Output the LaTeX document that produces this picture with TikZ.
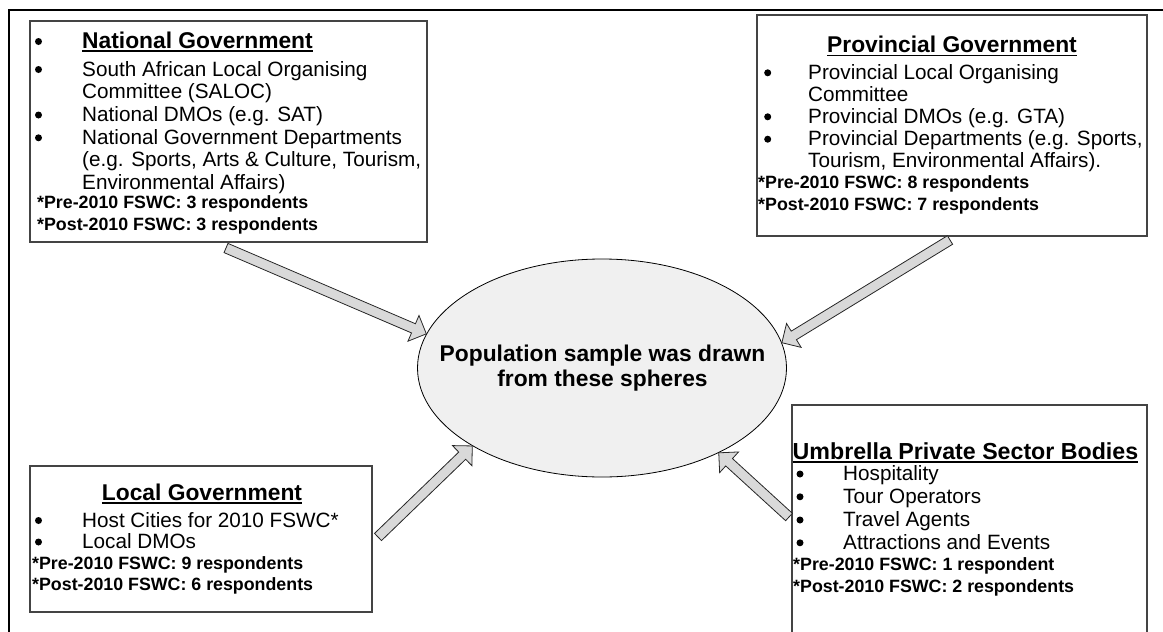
\documentclass[tikz,border=0pt]{standalone}
\usepackage{fontspec}
\setmainfont{Liberation Sans}
\usetikzlibrary{calc,shapes.geometric}

\definecolor{boxgray}{HTML}{444444}
\definecolor{arrowgray}{HTML}{D9D9D9}
\definecolor{ellfill}{HTML}{F0F0F0}

% underlined heading with a rule just below the baseline
\newcommand\ulined[1]{\setbox0=\hbox{#1}\rlap{\copy0}\rule[-3.6pt]{\wd0}{1.5pt}}

% block arrow from coordinate #1 (tail) to coordinate #2 (tip)
\newcommand\fatarrow[2]{%
  \path ($(#2)!14pt!(#1)$) coordinate (hb);
  \draw[blockarrow]
    ($(#1)!5pt!90:(#2)$) -- ($(hb)!5pt!90:(#2)$) -- ($(hb)!14pt!90:(#2)$) --
    (#2) --
    ($(hb)!14pt!-90:(#2)$) -- ($(hb)!5pt!-90:(#2)$) -- ($(#1)!5pt!-90:(#2)$) -- cycle;
}

\begin{document}
\begin{tikzpicture}[x=1pt,y=-1pt,
  box/.style={draw=boxgray, line width=1.1pt, fill=white, inner sep=0pt, outer sep=0pt, anchor=north west},
  ttl/.style={anchor=base, inner sep=0pt, font=\fontsize{22.8}{26}\selectfont\bfseries},
  itm/.style={anchor=base west, inner sep=0pt, font=\fontsize{20.7}{24}\selectfont},
  cnt/.style={anchor=base west, inner sep=0pt, font=\fontsize{17.8}{21}\selectfont\bfseries},
  bul/.style={circle, fill=black, inner sep=0pt, minimum size=7pt, yshift=6.5pt},
  poptext/.style={anchor=base, inner sep=0pt, font=\fontsize{22.8}{26}\selectfont\bfseries},
  blockarrow/.style={fill=arrowgray, draw=black!85, line width=0.8pt, line join=miter}]

\useasboundingbox (0,0) rectangle (1163,632);
\clip (0,0) rectangle (1163,632);

% outer frame (only its left and top sides fall inside the page)
\draw[line width=2pt] (8.5,10) rectangle (1200,700);

% central ellipse
\node[ellipse, draw=black, line width=0.8pt, fill=ellfill, minimum width=369pt, minimum height=218pt, inner sep=0pt] (pop) at (602,368) {};
\node[poptext] (pop-1) at (602.5,361.7) {Population sample was drawn};
\node[poptext] (pop-2) at (602.5,386.7) {from these spheres};

% the four sphere boxes
\node[box, minimum width=397pt, minimum height=221pt] (nat) at (30,21) {};
\node[box, minimum width=390pt, minimum height=221pt] (prov) at (757,15) {};
\node[box, minimum width=342pt, minimum height=146pt] (loc) at (30,466) {};
\node[box, minimum width=355pt, minimum height=260pt] (umb) at (792,405) {};

% National Government
\node[bul] (nat-b0) at (38.5,48) {};
\node[ttl, anchor=base west] (nat-t) at (82,48) {\ulined{National Government}};
\node[bul] (nat-b1) at (38.5,76) {};
\node[itm] (nat-1) at (82,76) {South African Local Organising};
\node[itm] (nat-2) at (82,98.7) {Committee (SALOC)};
\node[bul] (nat-b3) at (38.5,121.5) {};
\node[itm] (nat-3) at (82,121.5) {National DMOs (e.g. SAT)};
\node[bul] (nat-b4) at (38.5,144.3) {};
\node[itm] (nat-4) at (82,144.3) {National Government Departments};
\node[itm] (nat-5) at (82,166.7) {(e.g. Sports, Arts \& Culture, Tourism,};
\node[itm] (nat-6) at (82,189.3) {Environmental Affairs)};
\node[cnt] (nat-7) at (37,208.5) {*Pre-2010 FSWC: 3 respondents};
\node[cnt] (nat-8) at (37,230.5) {*Post-2010 FSWC: 3 respondents};

% Provincial Government
\node[ttl] (prov-t) at (952,52.7) {\ulined{Provincial Government}};
\node[bul] (prov-b1) at (767.7,79.3) {};
\node[itm] (prov-1) at (808,79.3) {Provincial Local Organising};
\node[itm] (prov-2) at (808,101) {Committee};
\node[bul] (prov-b3) at (767.7,123.3) {};
\node[itm] (prov-3) at (808,123.3) {Provincial DMOs (e.g. GTA)};
\node[bul] (prov-b4) at (767.7,145.7) {};
\node[itm] (prov-4) at (808,145.7) {Provincial Departments (e.g. Sports,};
\node[itm] (prov-5) at (808,167.7) {Tourism, Environmental Affairs).};
\node[cnt] (prov-6) at (758,188.3) {*Pre-2010 FSWC: 8 respondents};
\node[cnt] (prov-7) at (758,210) {*Post-2010 FSWC: 7 respondents};

% Local Government
\node[ttl] (loc-t) at (202,500) {\ulined{Local Government}};
\node[bul] (loc-b1) at (38.5,527) {};
\node[itm] (loc-1) at (82,527) {Host Cities for 2010 FSWC*};
\node[bul] (loc-b2) at (38.5,548.5) {};
\node[itm] (loc-2) at (82,548.5) {Local DMOs};
\node[cnt] (loc-3) at (32,569) {*Pre-2010 FSWC: 9 respondents};
\node[cnt] (loc-4) at (32,590.5) {*Post-2010 FSWC: 6 respondents};

% Umbrella Private Sector Bodies
\node[ttl, font=\fontsize{23.2}{26}\selectfont\bfseries] (umb-t) at (965.5,459) {\ulined{Umbrella Private Sector Bodies}};
\node[bul] (umb-b1) at (800,480.5) {};
\node[itm] (umb-1) at (843,480.5) {Hospitality};
\node[bul] (umb-b2) at (800,503.3) {};
\node[itm] (umb-2) at (843,503.3) {Tour Operators};
\node[bul] (umb-b3) at (800,526.5) {};
\node[itm] (umb-3) at (843,526.5) {Travel Agents};
\node[bul] (umb-b4) at (800,549.3) {};
\node[itm] (umb-4) at (843,549.3) {Attractions and Events};
\node[cnt] (umb-5) at (793,570.7) {*Pre-2010 FSWC: 1 respondent};
\node[cnt] (umb-6) at (793,592.3) {*Post-2010 FSWC: 2 respondents};

% arrow ends: tails just off each box, tips on the ellipse
\coordinate (a1s) at ($(nat.south west)+(196,6)$);
\coordinate (a1e) at (pop.169.9);
\coordinate (a2s) at ($(prov.south west)+(193,4)$);
\coordinate (a2e) at (pop.8.9);
\coordinate (a3s) at ($(loc.east)+(6,-2)$);
\coordinate (a3e) at (pop.211);
\coordinate (a4s) at ($(umb.north west)+(-3,112)$);
\coordinate (a4e) at (pop.324.2);

\fatarrow{a1s}{a1e}
\fatarrow{a2s}{a2e}
\fatarrow{a3s}{a3e}
\fatarrow{a4s}{a4e}

\end{tikzpicture}
\end{document}
